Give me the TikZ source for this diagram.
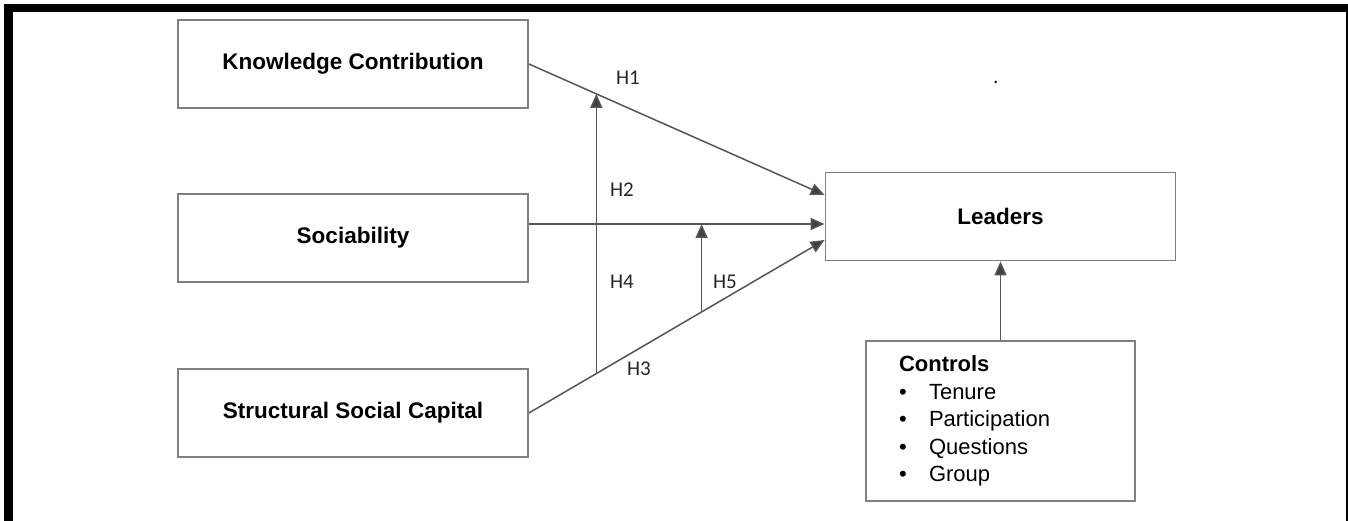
\documentclass[tikz,border=0pt]{standalone}
\usepackage{fontspec}
\setmainfont{Liberation Sans}
\newfontfamily\calfont{Carlito}
\usetikzlibrary{arrows.meta}
\definecolor{linec}{RGB}{85,85,85}
\definecolor{boxc}{RGB}{128,128,128}
\definecolor{tipc}{RGB}{64,64,64}
\tikzset{
  box/.style={draw=boxc, line width=1.8pt, minimum width=350pt, minimum height=88pt, inner sep=0pt,
    font=\bfseries\fontsize{22.5}{27}\selectfont, text=black},
  conn/.style={draw=linec, line width=1.5pt, -{Triangle[length=14pt,width=12pt,fill=tipc]}},
  hlab/.style={font=\calfont\fontsize{21}{25}\selectfont, inner sep=0pt, text=black!85},
}
\begin{document}
\begin{tikzpicture}[x=1pt,y=-1pt]
\useasboundingbox (0,0) rectangle (1348,521);
% frame bars
\fill[black] (4,4) rectangle (1348,12);
\fill[black] (4,4) rectangle (13,521);
\fill[black] (1345.5,4) rectangle (1348,521);
% boxes
\node[box] (kc) at (353,64) {Knowledge Contribution};
\node[box] (soc) at (353,238) {Sociability};
\node[box] (ssc) at (353,413) {Structural Social Capital};
\node[box] (ld) at (1000.5,216.5) {Leaders};
\node[draw=boxc, line width=1.8pt, minimum width=269pt, minimum height=160pt, inner xsep=33pt, inner ysep=0pt,
  text width=203pt, align=left, font=\fontsize{22}{27.5}\selectfont] (ctl) at (1000.5,421)
  {\textbf{Controls}\\
   \makebox[30pt][l]{\textbullet}Tenure\\
   \makebox[30pt][l]{\textbullet}Participation\\
   \makebox[30pt][l]{\textbullet}Questions\\
   \makebox[30pt][l]{\textbullet}Group};
% main paths
\draw[conn] (kc.east) -- coordinate[pos=0.228] (h1m) ([yshift=21.5pt]ld.west);
\draw[conn] ([yshift=14pt]soc.east) -- coordinate[pos=0.584] (h2m) ([yshift=-7.5pt]ld.west);
\draw[conn] (ssc.east) -- coordinate[pos=0.228] (h3a) coordinate[pos=0.584] (h3b) ([yshift=-23.5pt]ld.west);
% moderation paths
\draw[conn] (h3a) -- (h1m);
\draw[conn] (h3b) -- (h2m);
% controls
\draw[conn] (ctl.north) -- (ld.south);
% labels
\node[hlab] (l1) at (628,78) {H1};
\node[hlab] (l2) at (622,190) {H2};
\node[hlab] (l4) at (622,282) {H4};
\node[hlab] (l5) at (725,282) {H5};
\node[hlab] (l3) at (639,369) {H3};
\node[font=\calfont\fontsize{20}{24}\selectfont, inner sep=0pt, anchor=base] (dot) at (996,84) {.};
\end{tikzpicture}
\end{document}
